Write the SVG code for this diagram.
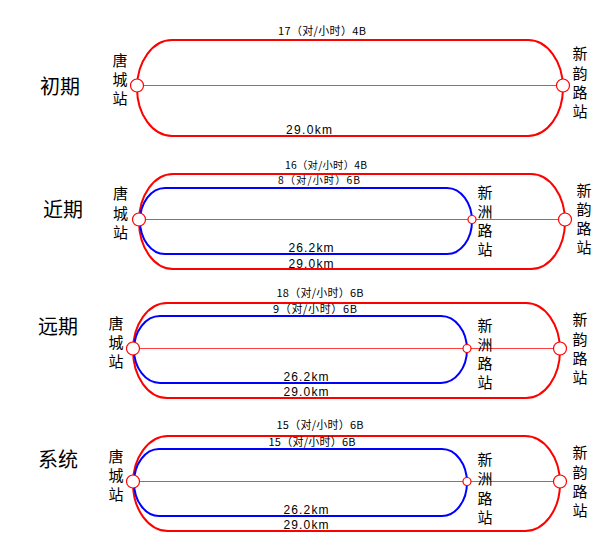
<svg xmlns="http://www.w3.org/2000/svg" width="616" height="554" viewBox="0 0 616 554">
<style>
.red{fill:none;stroke:#ff0000;stroke-width:2}
.blue{fill:none;stroke:#0000ff;stroke-width:2}
.axis{stroke:#ff4040;stroke-width:1;fill:none}
.stn{fill:#fff;stroke:#ff0000;stroke-width:1.2}
text{font-family:"Noto Sans CJK SC","Liberation Sans",sans-serif;fill:#000}
.period{font-size:20px;text-anchor:middle}
.name{font-size:15px;text-anchor:middle}
.freq{font-size:11px;text-anchor:middle}
.freqs{font-size:10.3px;text-anchor:middle}
.km{font-family:"Liberation Sans",Arial,sans-serif;font-size:12px;text-anchor:middle}
</style>
<rect width="616" height="554" fill="#fff"/>

<!-- Panel 1 -->
<g id="p1">
  <text id="p1-label" class="period" x="60" y="94">初期</text>
  <rect id="p1-red" class="red" x="137" y="40" width="426" height="96" rx="35" ry="48"/>
  <text class="freq" x="322" y="35" textLength="88">17（对/小时）4B</text>
  <text class="km" x="309" y="134" textLength="46">29.0km</text>
</g>
<!-- Panel 2 -->
<g id="p2">
  <text id="p2-label" class="period" x="63" y="217">近期</text>
  <rect id="p2-red" class="red" x="139" y="174" width="426" height="95" rx="34" ry="47.5"/>
  <rect id="p2-blue" class="blue" x="140" y="188" width="332" height="66" rx="25" ry="33"/>
  <text class="freqs" x="326" y="169" textLength="82">16（对/小时）4B</text>
  <text class="freqs" x="319" y="184" textLength="82">8（对/小时）6B</text>
  <text class="km" x="311" y="252" textLength="45">26.2km</text>
  <text class="km" x="311" y="268" textLength="45">29.0km</text>
</g>
<!-- Panel 3 -->
<g id="p3">
  <text id="p3-label" class="period" x="58" y="334">远期</text>
  <rect id="p3-red" class="red" x="133" y="303" width="427" height="95" rx="34" ry="47.5"/>
  <rect id="p3-blue" class="blue" x="134" y="316" width="333" height="67" rx="26" ry="33.5"/>
  <text class="freq" x="320" y="297" textLength="87">18（对/小时）6B</text>
  <text class="freq" x="315" y="313" textLength="84">9（对/小时）6B</text>
  <text class="km" x="306" y="381" textLength="45">26.2km</text>
  <text class="km" x="306" y="396" textLength="45">29.0km</text>
</g>
<!-- Panel 4 -->
<g id="p4">
  <text id="p4-label" class="period" x="58" y="467">系统</text>
  <rect id="p4-red" class="red" x="133" y="436" width="427" height="95" rx="35" ry="47.5"/>
  <rect id="p4-blue" class="blue" x="134" y="449" width="333" height="67" rx="25" ry="33.5"/>
  <text class="freq" x="320" y="429" textLength="87">15（对/小时）6B</text>
  <text class="freq" x="312" y="446" textLength="87">15（对/小时）6B</text>
  <text class="km" x="306" y="514" textLength="45">26.2km</text>
  <text class="km" x="306" y="529" textLength="45">29.0km</text>
</g>

<!-- Connectors: center axis lines -->
<g id="connectors">
  <line class="axis" x1="137" y1="85.5" x2="563" y2="85.5"/>
  <line class="axis" x1="139" y1="219.5" x2="565" y2="219.5"/>
  <line class="axis" x1="133" y1="348.5" x2="560" y2="348.5"/>
  <line class="axis" x1="133" y1="481.5" x2="560" y2="481.5"/>
</g>

<!-- Stations -->
<g id="p1-tangcheng">
  <circle class="stn" cx="137" cy="85.5" r="6.5"/>
  <text class="name"><tspan x="120" y="66">唐</tspan><tspan x="120" y="85">城</tspan><tspan x="120" y="104">站</tspan></text>
</g>
<g id="p1-xinyunlu">
  <circle class="stn" cx="563" cy="85.5" r="6.5"/>
  <text class="name"><tspan x="580" y="59">新</tspan><tspan x="580" y="79">韵</tspan><tspan x="580" y="98">路</tspan><tspan x="580" y="117">站</tspan></text>
</g>

<g id="p2-tangcheng">
  <circle class="stn" cx="139" cy="219.5" r="6.5"/>
  <text class="name"><tspan x="120.5" y="199">唐</tspan><tspan x="120.5" y="219">城</tspan><tspan x="120.5" y="238">站</tspan></text>
</g>
<g id="p2-xinzhoulu">
  <circle class="stn" cx="472" cy="219.5" r="4"/>
  <text class="name"><tspan x="485" y="198">新</tspan><tspan x="485" y="217">洲</tspan><tspan x="485" y="236">路</tspan><tspan x="485" y="255">站</tspan></text>
</g>
<g id="p2-xinyunlu">
  <circle class="stn" cx="565" cy="219.5" r="6.5"/>
  <text class="name"><tspan x="584" y="196">新</tspan><tspan x="584" y="215">韵</tspan><tspan x="584" y="234">路</tspan><tspan x="584" y="253">站</tspan></text>
</g>

<g id="p3-tangcheng">
  <circle class="stn" cx="133" cy="348.5" r="6.5"/>
  <text class="name"><tspan x="116" y="329">唐</tspan><tspan x="116" y="348">城</tspan><tspan x="116" y="367">站</tspan></text>
</g>
<g id="p3-xinzhoulu">
  <circle class="stn" cx="467" cy="348.5" r="4"/>
  <text class="name"><tspan x="485" y="331">新</tspan><tspan x="485" y="350">洲</tspan><tspan x="485" y="369">路</tspan><tspan x="485" y="388">站</tspan></text>
</g>
<g id="p3-xinyunlu">
  <circle class="stn" cx="560" cy="348.5" r="6.5"/>
  <text class="name"><tspan x="580" y="325">新</tspan><tspan x="580" y="345">韵</tspan><tspan x="580" y="364">路</tspan><tspan x="580" y="383">站</tspan></text>
</g>

<g id="p4-tangcheng">
  <circle class="stn" cx="133" cy="481.5" r="6.5"/>
  <text class="name"><tspan x="116" y="462">唐</tspan><tspan x="116" y="481">城</tspan><tspan x="116" y="500">站</tspan></text>
</g>
<g id="p4-xinzhoulu">
  <circle class="stn" cx="467" cy="481.5" r="4"/>
  <text class="name"><tspan x="485" y="465">新</tspan><tspan x="485" y="484">洲</tspan><tspan x="485" y="504">路</tspan><tspan x="485" y="523">站</tspan></text>
</g>
<g id="p4-xinyunlu">
  <circle class="stn" cx="560" cy="481.5" r="6.5"/>
  <text class="name"><tspan x="580" y="458">新</tspan><tspan x="580" y="478">韵</tspan><tspan x="580" y="497">路</tspan><tspan x="580" y="516">站</tspan></text>
</g>
</svg>
